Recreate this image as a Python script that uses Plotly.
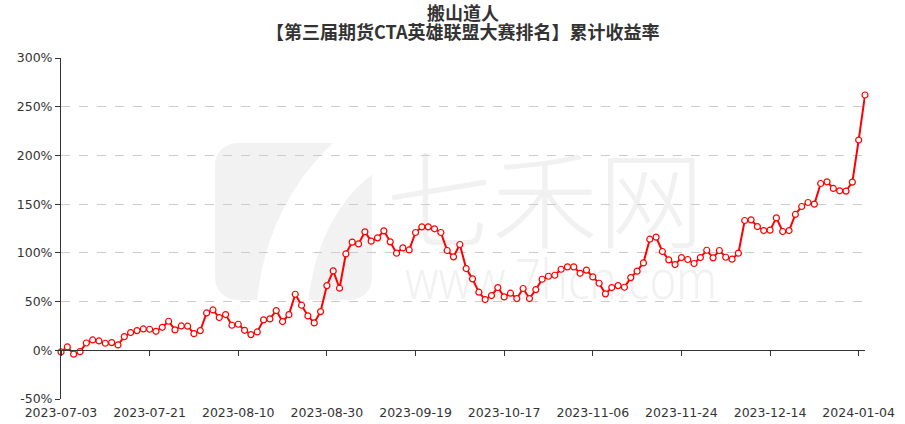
import base64
import pandas as pd
import plotly.graph_objects as go

# ---------------- data ----------------
holidays = ["2023-09-29", "2023-10-02", "2023-10-03", "2023-10-04",
            "2023-10-05", "2023-10-06", "2024-01-01"]
dates = [d.strftime("%Y-%m-%d") for d in pd.bdate_range("2023-07-03", "2024-01-05")
         if d.strftime("%Y-%m-%d") not in holidays]

returns = [
    -1.7, 3.4, -4.0, -1.4, 7.5, 10.6, 9.6, 7.2, 7.9, 5.5,
    14.0, 18.2, 20.2, 21.9, 21.6, 19.5, 23.6, 29.8, 20.9, 25.0,
    24.7, 17.1, 20.2, 38.3, 41.4, 33.6, 36.7, 25.7, 26.7, 20.5,
    16.1, 18.8, 31.2, 32.2, 40.8, 29.5, 36.6, 57.5, 46.2, 35.3,
    28.1, 39.7, 66.4, 81.5, 63.7, 99.0, 111.0, 109.2, 121.6, 112.0,
    115.4, 122.6, 111.3, 99.7, 105.1, 103.0, 120.9, 126.7, 126.7, 124.7,
    120.9, 102.4, 95.9, 108.6, 83.9, 73.3, 59.6, 52.1, 56.2, 64.4,
    54.8, 58.6, 53.1, 63.4, 53.1, 62.3, 72.9, 76.0, 77.0, 83.2,
    85.6, 85.6, 79.0, 82.3, 75.3, 68.8, 57.9, 64.4, 66.4, 64.7,
    74.6, 81.2, 89.7, 114.0, 116.1, 101.4, 92.8, 88.0, 95.2, 93.2,
    89.1, 95.2, 102.7, 94.9, 102.4, 95.5, 93.5, 99.7, 133.2, 133.9,
    127.0, 122.9, 123.3, 135.9, 121.9, 122.9, 139.4, 147.6, 151.7, 150.0,
    171.2, 172.9, 166.1, 163.7, 163.4, 172.6, 215.8, 262.0,
]

x_tick_labels = ["2023-07-03", "2023-07-21", "2023-08-10", "2023-08-30", "2023-09-19",
                 "2023-10-17", "2023-11-06", "2023-11-24", "2023-12-14", "2024-01-04"]
y_tick_values = [-50, 0, 50, 100, 150, 200, 250, 300]
y_tick_text = [f"{v}%" for v in y_tick_values]

title_line1 = "搬山道人"
title_line2 = "【第三届期货CTA英雄联盟大赛排名】累计收益率"

# ---------------- watermark (svg image placed under the grid) ----------------
W, H = 804, 341  # plot-area size in px
ox, oy = 61, 58
def P(x, y):
    return f"{x - ox},{y - oy}"
svg = f'''<svg xmlns="http://www.w3.org/2000/svg" width="{W}" height="{H}" viewBox="0 0 {W} {H}">
<rect x="{215-ox}" y="{143-oy}" width="157" height="157" rx="22" ry="22" fill="#f2f2f2"/>
<path d="M {P(336,140)} L {P(375,140)} L {P(375,172)} Q {P(318,215)} {P(308,302)} L {P(257,302)} Q {P(266,205)} {P(336,140)} Z" fill="#ffffff"/>
<text x="{386-ox}" y="{240-oy}" font-family="Noto Sans CJK SC" font-size="106" font-weight="300" fill="#f1f1f1">七禾网</text>
<text x="{405-ox}" y="{299-oy}" font-family="Noto Sans" font-size="56" font-weight="300" fill="#f1f1f1" textLength="312" lengthAdjust="spacingAndGlyphs">www.7hcn.com</text>
</svg>'''
svg_uri = "data:image/svg+xml;base64," + base64.b64encode(svg.encode("utf-8")).decode("ascii")

# ---------------- figure ----------------
fig = go.Figure()

fig.add_trace(go.Scatter(
    x=dates, y=returns, xaxis="x2", yaxis="y", mode="lines",
    line=dict(color="rgba(0,0,0,0)", width=0), hoverinfo="skip", showlegend=False,
))
fig.add_trace(go.Scatter(
    x=dates, y=returns, mode="lines+markers", name="累计收益率",
    line=dict(color="#ff0000", width=2),
    marker=dict(symbol="circle", size=6, color="#ffffff",
                line=dict(color="#ff0000", width=1.2)),
    cliponaxis=False, showlegend=False,
))

tick_font = dict(family="DejaVu Sans", size=12.5, color="#333333")
plot_top, plot_h = 58, 341

fig.update_layout(
    width=905, height=424, autosize=False,
    margin=dict(l=61, r=40, t=58, b=25, pad=0, autoexpand=False),
    paper_bgcolor="#ffffff", plot_bgcolor="rgba(0,0,0,0)",
    showlegend=False,
    xaxis=dict(
        type="category", categoryorder="array", categoryarray=dates,
        range=[0, len(dates) - 1], tickmode="array", tickvals=x_tick_labels,
        ticktext=x_tick_labels, ticks="", showline=False, showgrid=False,
        zeroline=False, tickangle=0, tickfont=tick_font, automargin=False,
        ticklabelstandoff=4,
    ),
    xaxis2=dict(
        type="category", categoryorder="array", categoryarray=dates,
        range=[0, len(dates) - 1], overlaying="x", anchor="free",
        position=50 / 350, tickmode="array", tickvals=x_tick_labels,
        showticklabels=False, ticks="outside", ticklen=5, tickcolor="#333333",
        showline=True, linecolor="#333333", linewidth=1, showgrid=False,
        zeroline=False, automargin=False,
    ),
    yaxis=dict(
        range=[-50, 300], tickmode="array", tickvals=y_tick_values,
        ticktext=y_tick_text, showline=True, linecolor="#333333", linewidth=1,
        ticks="outside", ticklen=5, tickcolor="#333333",
        showgrid=True, gridcolor="#cccccc", gridwidth=1, griddash="dash",
        zeroline=False, tickfont=tick_font, automargin=False,
    ),
    images=[dict(
        source=svg_uri, xref="paper", yref="paper", x=0, y=1,
        sizex=1, sizey=1, xanchor="left", yanchor="top",
        sizing="stretch", layer="below",
    )],
    annotations=[
        dict(text=title_line1, xref="paper", yref="paper", x=0.5,
             y=1 + (plot_top - 12) / plot_h, xanchor="center", yanchor="middle",
             showarrow=False,
             font=dict(family="Noto Sans CJK SC", size=18, color="#333333", weight="bold")),
        dict(text=title_line2, xref="paper", yref="paper", x=0.5,
             y=1 + (plot_top - 31) / plot_h, xanchor="center", yanchor="middle",
             showarrow=False,
             font=dict(family="Noto Sans CJK SC", size=18, color="#333333", weight="bold")),
    ],
)

fig.write_html("out.html",
               config={"displayModeBar": False},
               post_script="document.body.style.margin='0px';document.body.style.padding='0px';")
